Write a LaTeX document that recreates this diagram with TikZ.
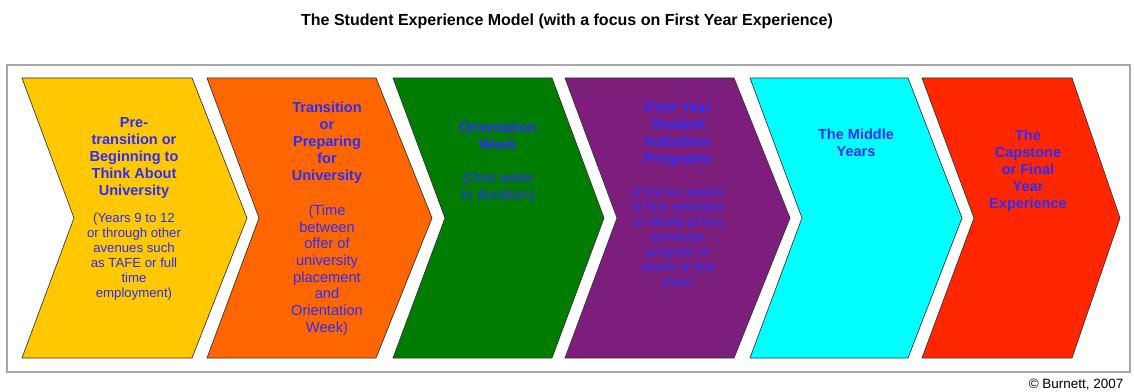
\documentclass[tikz,border=0pt]{standalone}
\usepackage{fontspec}
\setmainfont{Liberation Sans}
\usepackage{xcolor}
\definecolor{fyyellow}{RGB}{255,200,0}
\definecolor{fyorange}{RGB}{255,102,0}
\definecolor{fygreen}{RGB}{0,125,0}
\definecolor{fypurple}{RGB}{125,30,125}
\definecolor{fycyan}{RGB}{0,255,255}
\definecolor{fyred}{RGB}{255,38,0}
\definecolor{fyblue}{RGB}{45,45,250}
\usetikzlibrary{positioning}

\begin{document}
\begin{tikzpicture}[x=0.75pt,y=-0.75pt,
  head/.style={align=center,inner sep=0pt,anchor=north,text=fyblue,
    font=\fontsize{10.9}{12.75}\selectfont\bfseries},
  note/.style={align=center,inner sep=0pt,anchor=north,text=fyblue,
    font=\fontsize{9.9}{11.25}\selectfont},
  bignote/.style={note,font=\fontsize{11}{12.5}\selectfont}]
 \useasboundingbox (0,0) rectangle (1134,392);
 \draw[gray!70,line width=0.8pt] (7,65) rectangle (1130,372);
 %
 \foreach \l/\r/\t/\c in {22/192/247/fyyellow,207/376/432/fyorange,393/552/604/fygreen,
   565/734/790/fypurple,750/908/962/fycyan,922/1072/1120/fyred}
   \filldraw[fill=\c,draw=black!80,line width=0.5pt]
     (\l,78) -- (\r,78) -- (\t,218) -- (\r,358) -- (\l,358) -- (\l+52,218) -- cycle;
 %
 \node[font=\fontsize{12}{14}\selectfont\bfseries,anchor=base] (title) at (567,25.5)
   {The Student Experience Model (with a focus on First Year Experience)};
 \node[head] (pre) at (134,117) {Pre-\\transition or\\Beginning to\\Think About\\University};
 \node[note] (prenote) at (134,213) {(Years 9 to 12\\or through other\\avenues such\\as TAFE or full\\time\\employment)};
 \node[head] (trans) at (327,102) {Transition\\or\\Preparing\\for\\University};
 \node[bignote] (transnote) at (327,204.5) {(Time\\between\\offer of\\university\\placement\\and\\Orientation\\Week)};
 \node[head] (orient) at (498,122) {Orientation\\Week};
 \node[bignote] (orientnote) at (498,171.5) {(One week\\in duration)};
 \node[head] (induct) at (678,102) {First Year\\Student\\Induction\\Programs};
 \node[note] (inductnote) at (678,187) {(First six weeks\\of first semester\\or whole of first\\semester\\program or\\whole of first\\year)};
 \node[head] (middle) at (856,129) {The Middle\\Years};
 \node[head] (capstone) at (1028,130) {The\\Capstone\\or Final\\Year\\Experience};
 \node[font=\fontsize{10.1}{12}\selectfont,anchor=base east] (credit) at (1128,388.5) {© Burnett, 2007};
\end{tikzpicture}
\end{document}
